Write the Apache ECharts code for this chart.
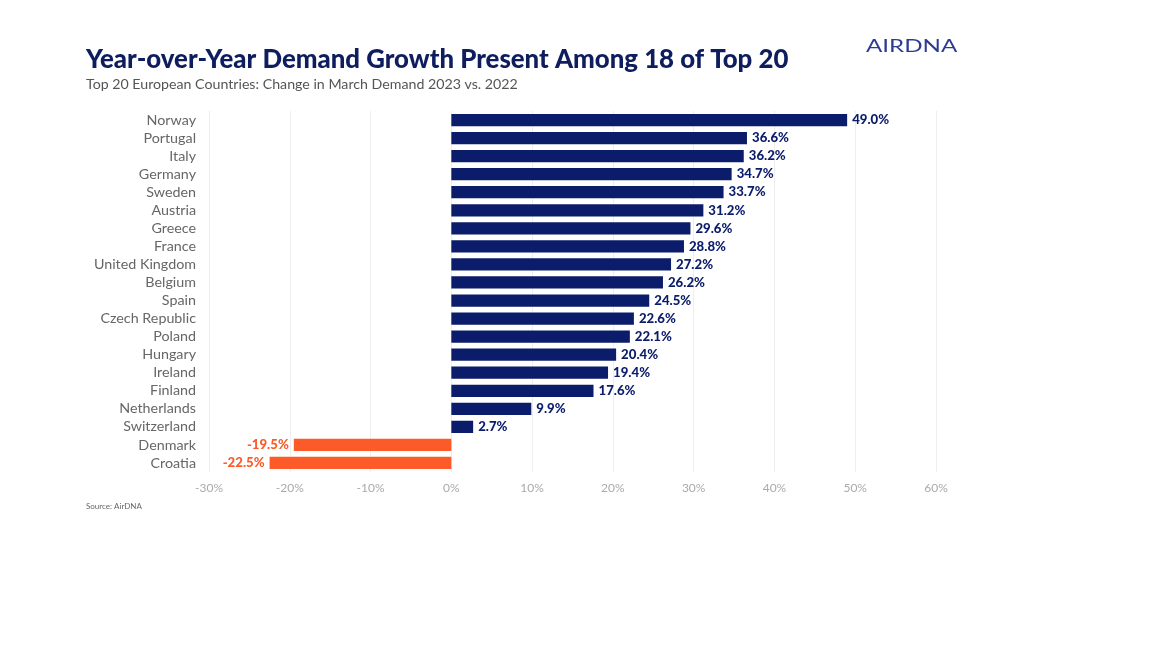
<!DOCTYPE html>
<html><head><meta charset="utf-8">
<script src="https://cdn.jsdelivr.net/npm/echarts@6/dist/echarts.min.js"></script>
<style>html,body{margin:0;padding:0;background:#fff}#c{width:1152px;height:648px}</style>
</head><body><div id="c"></div>
<script>
const countries = ["Norway","Portugal","Italy","Germany","Sweden","Austria","Greece","France","United Kingdom","Belgium","Spain","Czech Republic","Poland","Hungary","Ireland","Finland","Netherlands","Switzerland","Denmark","Croatia"];
const growth = [49.0,36.6,36.2,34.7,33.7,31.2,29.6,28.8,27.2,26.2,24.5,22.6,22.1,20.4,19.4,17.6,9.9,2.7,-19.5,-22.5];
const xTicks = [-30,-20,-10,0,10,20,30,40,50,60];
const NAVY = '#0b1c6b', ORANGE = '#fc5a28';
const chart = echarts.init(document.getElementById('c'));
chart.setOption({
  animation:false,
  title:[
    {text:'Year-over-Year Demand Growth Present Among 18 of Top 20',left:86,top:47,padding:0,textStyle:{fontFamily:'Lato',fontWeight:900,fontSize:25.8,color:'#0d1d5e'}},
    {text:'Top 20 European Countries: Change in March Demand 2023 vs. 2022',left:86,top:77,padding:0,textStyle:{fontFamily:'Lato',fontWeight:'normal',fontSize:14.2,color:'#555'}},
    {text:'Source: AirDNA',left:86,top:502,padding:0,textStyle:{fontFamily:'Lato',fontWeight:'normal',fontSize:8,color:'#666'}}
  ],
  graphic:[{type:'text',x:866,y:38,scaleX:1.42,style:{text:'AIRDNA',font:'normal 17px Lato',fill:'#2c3c94',textVerticalAlign:'top'}}],
  grid:{left:209,right:216,top:111,bottom:176,containLabel:false},
  xAxis:{type:'value',min:xTicks[0],max:xTicks[xTicks.length-1],interval:10,
    axisLabel:{formatter:v=>v+'%',color:'#aaa',fontFamily:'Lato',fontSize:12,margin:10},
    axisLine:{show:false},axisTick:{show:false},
    splitLine:{show:true,lineStyle:{color:'#eeeeee',width:1}}},
  yAxis:{type:'category',data:countries,inverse:true,
    axisLine:{show:false},axisTick:{show:false},
    axisLabel:{interval:0,color:'#666',fontFamily:'Lato',fontSize:14.3,margin:13}},
  series:[{type:'bar',barCategoryGap:'32%',
    data:growth.map(v=>({value:v,itemStyle:{color:v<0?ORANGE:NAVY},
      label:{show:true,position:v<0?'left':'right',color:v<0?ORANGE:NAVY,distance:5,
        fontFamily:'Lato',fontWeight:900,fontSize:13.2,formatter:p=>p.value.toFixed(1)+'%'}}))
  }]
});
</script></body></html>
